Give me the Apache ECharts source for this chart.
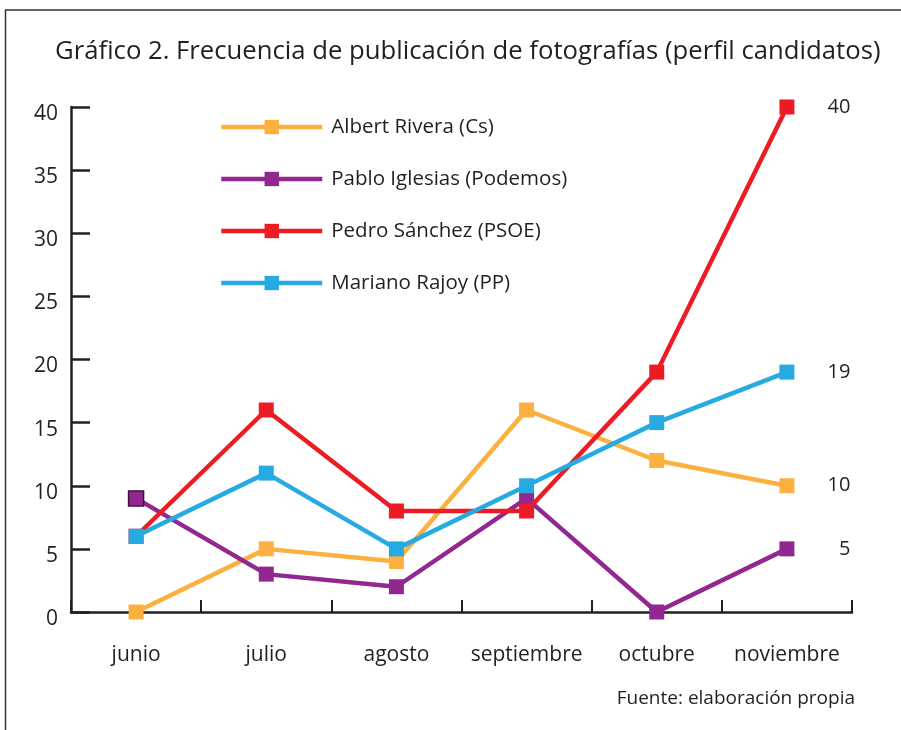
<!DOCTYPE html>
<html>
<head>
<meta charset="utf-8">
<script src="https://cdn.jsdelivr.net/npm/echarts@6/dist/echarts.min.js"></script>
<style>html,body{margin:0;padding:0;background:#fff;}#c{width:901px;height:730px;}</style>
</head>
<body>
<div id="c"></div>
<script>
const categories = ['junio', 'julio', 'agosto', 'septiembre', 'octubre', 'noviembre'];
const seriesNames = ['Albert Rivera (Cs)', 'Pablo Iglesias (Podemos)', 'Pedro Sánchez (PSOE)', 'Mariano Rajoy (PP)'];
const rivera = [0, 5, 4, 16, 12, 10];
const iglesias = [9, 3, 2, 9, 0, 5];
const sanchez = [6, 16, 8, 8, 19, 40];
const rajoy = [6, 11, 5, 10, 15, 19];
const yTicks = [0, 5, 10, 15, 20, 25, 30, 35, 40];

const colors = ['#FBB040', '#92278F', '#ED1C24', '#27AAE1'];
const FONT = 'Open Sans';
const TXT = '#231F20';

function mkSeries(name, data, color, z, outlineFirst) {
  const d = data.map(function (v, i) {
    return (outlineFirst && i === 0) ? { value: v, itemStyle: { borderColor: '#3a1238', borderWidth: 1.5 } } : v;
  });
  return {
    name: name, type: 'line', data: d, z: z,
    symbol: 'rect', symbolSize: 15,
    lineStyle: { color: color, width: 4.5 },
    itemStyle: { color: color },
    emphasis: { disabled: true },
    label: {
      show: true, position: 'right', distance: 56, align: 'right',
      fontFamily: FONT, fontSize: 20, color: TXT, padding: [0, 0, 3, 0],
      formatter: function (p) { return p.dataIndex === data.length - 1 ? String(p.value) : ''; }
    }
  };
}

const chart = echarts.init(document.getElementById('c'), null, { renderer: 'canvas' });
chart.setOption({
  animation: false,
  backgroundColor: '#fff',
  title: {
    text: 'Gráfico 2. Frecuencia de publicación de fotografías (perfil candidatos)',
    left: 50, top: 34,
    textStyle: { fontFamily: FONT, fontSize: 25.7, fontWeight: 'normal', color: TXT }
  },
  legend: {
    orient: 'vertical', left: 214, top: 111,
    itemWidth: 101, itemHeight: 18, itemGap: 30,
    data: seriesNames,
    lineStyle: { width: 4.5 },
    itemStyle: { borderWidth: 0 },
    textStyle: { fontFamily: FONT, fontSize: 20.5, color: TXT, lineHeight: 22, padding: [0, 0, 0, 4] }
  },
  grid: { left: 71, right: 49, top: 107, bottom: 118, containLabel: false },
  xAxis: {
    type: 'category', data: categories, boundaryGap: true,
    axisLine: { lineStyle: { color: TXT, width: 2.5 } },
    axisTick: { show: true, inside: true, interval: 0, length: 12, alignWithLabel: false, lineStyle: { color: TXT, width: 2 } },
    axisLabel: { interval: 0, margin: 33, fontFamily: FONT, fontSize: 21, color: TXT },
    splitLine: { show: false }
  },
  yAxis: {
    type: 'value', min: yTicks[0], max: yTicks[yTicks.length - 1], interval: 5,
    axisLine: { show: true, lineStyle: { color: TXT, width: 2.5 } },
    axisTick: { show: true, inside: true, length: 19, lineStyle: { color: TXT, width: 2.5 } },
    axisLabel: { margin: 13, fontFamily: FONT, fontSize: 21, color: TXT, verticalAlign: 'top', lineHeight: 14 },
    splitLine: { show: false }
  },
  graphic: [
    { type: 'line', shape: { x1: 5.5, y1: 10, x2: 5.5, y2: 730 }, style: { stroke: '#333', lineWidth: 1.5 }, silent: true },
    { type: 'line', shape: { x1: 5, y1: 10, x2: 901, y2: 10 }, style: { stroke: '#333', lineWidth: 1.5 }, silent: true },
    { type: 'text', right: 46, top: 689, style: { text: 'Fuente: elaboración propia', fontFamily: FONT, fontSize: 19, fill: TXT } }
  ],
  series: [
    mkSeries(seriesNames[0], rivera, colors[0], 2, false),
    mkSeries(seriesNames[1], iglesias, colors[1], 3, true),
    mkSeries(seriesNames[2], sanchez, colors[2], 4, false),
    mkSeries(seriesNames[3], rajoy, colors[3], 5, false)
  ]
});
</script>
</body>
</html>
